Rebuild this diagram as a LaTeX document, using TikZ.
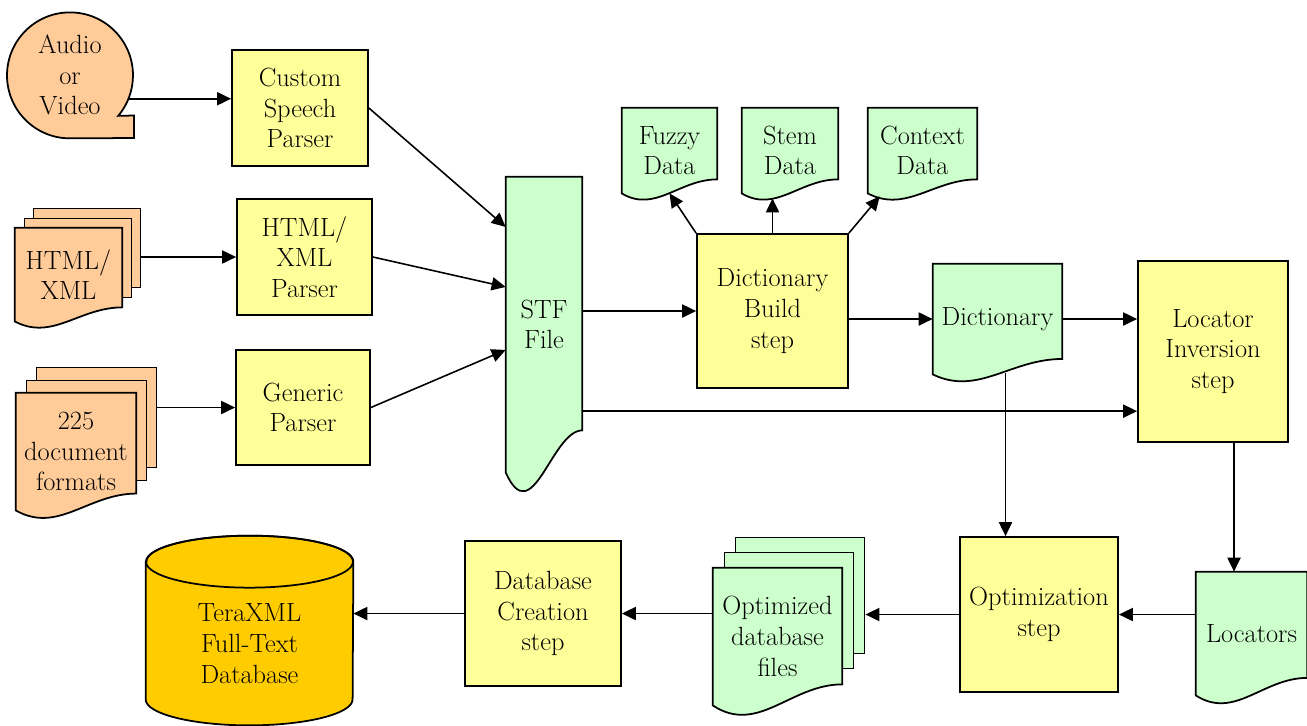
\documentclass[tikz,border=0pt]{standalone}
\usetikzlibrary{positioning, arrows.meta, calc, backgrounds}

\definecolor{srcorange}{HTML}{FFCC99}
\definecolor{stepyellow}{HTML}{FFFF99}
\definecolor{datagreen}{HTML}{CCFFCC}
\definecolor{dbgold}{HTML}{FFCC00}

\def\px{0.02cm}

% document page with a wavy lower edge: node, fill, depth of the wave
\newcommand{\docshape}[3]{%
    \filldraw[shapeline, fill=#2] (#1.north west) -- (#1.north east)
        -- ($(#1.south east)+(0,-14*#3)$)
        .. controls ($(#1.south west)!0.6!(#1.south east)+(0,-14*#3)$)
        and ($(#1.south west)!0.35!(#1.south east)+(0,20*#3)$) .. (#1.south west)
        -- cycle;}

\begin{document}
\begin{tikzpicture}[
            x=0.02cm, y=-0.02cm,
            font=\fontsize{15}{17.5}\selectfont,
            shapeline/.style={line width=1pt, line join=miter},
            stepbox/.style={draw, shapeline, fill=stepyellow, align=center, inner sep=0pt},
            docnode/.style={align=center, inner sep=0pt},
            backpage/.style={draw, shapeline, anchor=north west, inner sep=0pt},
            flow/.style={line width=0.9pt, -{Triangle[length=8pt, width=7.5pt]}},
        ]
            \useasboundingbox (0,0) rectangle (1307,725);

            % Inputs
            \node[circle, minimum size=126*\px, inner sep=0pt, align=center] (audio) at (70,75) {Audio\\or\\Video};
            \node[docnode, minimum width=107*\px, minimum height=93*\px] (html) at (68.5,274.5) {HTML/\\XML};
            \node[docnode, minimum width=120*\px, minimum height=117*\px] (fmt) at (76,451.5) {225\\document\\formats};

            % Parsers
            \node[stepbox, minimum width=136*\px, minimum height=116*\px] (csp) at (300,108) {Custom\\Speech\\Parser};
            \node[stepbox, minimum width=135*\px, minimum height=116*\px] (hxp) at (304.5,257) {HTML/\\XML\\Parser};
            \node[stepbox, minimum width=134*\px, minimum height=115*\px] (gp) at (303,407.5) {Generic\\Parser};

            \node[docnode, minimum width=76*\px, minimum height=295*\px] (stf) at (544,324.5) {STF\\File};

            % Dictionary build and its data files
            \node[stepbox, minimum width=151*\px, minimum height=154*\px] (dbs) at (772.5,311) {Dictionary\\Build\\step};
            \node[docnode, minimum width=95*\px, minimum height=85*\px] (fuzzy) at (669.5,150.5) {Fuzzy\\Data};
            \node[docnode, minimum width=96*\px, minimum height=85*\px] (stem) at (790,150.5) {Stem\\Data};
            \node[docnode, minimum width=109*\px, minimum height=85*\px] (context) at (922.5,150.5) {Context\\Data};
            \node[docnode, minimum width=129*\px, minimum height=110*\px] (dict) at (997.5,319) {Dictionary};

            % Inversion and optimization
            \node[stepbox, minimum width=150*\px, minimum height=181*\px] (lis) at (1213,351.5) {Locator\\Inversion\\step};
            \node[docnode, minimum width=111*\px, minimum height=123*\px] (loc) at (1251.5,633.5) {Locators};
            \node[stepbox, minimum width=158*\px, minimum height=155*\px] (opt) at (1039,614.5) {Optimization\\step};
            \node[docnode, minimum width=129*\px, minimum height=137*\px] (odb) at (777.5,636.5) {Optimized\\database\\files};
            \node[stepbox, minimum width=156*\px, minimum height=145*\px] (dbc) at (543,613.5) {Database\\Creation\\step};
            \node[docnode, minimum width=207*\px, minimum height=111*\px] (tdb) at (249.5,643.5) {TeraXML\\Full-Text\\Database};

            \begin{scope}[on background layer]
                % tape shaped source
                \filldraw[shapeline, fill=srcorange] (audio.south)
                    arc[start angle=270, end angle=-40, radius=1.26cm]
                    -- ($(audio.center)+(64,40.5)$) -- ($(audio.center)+(64,63)$) -- cycle;

                % stacked pages
                \node[backpage, fill=srcorange, minimum width=107*\px, minimum height=79*\px] (html-3) at ($(html.north west)+(18,-20)$) {};
                \node[backpage, fill=srcorange, minimum width=107*\px, minimum height=79*\px] (html-2) at ($(html.north west)+(9,-10)$) {};
                \docshape{html}{srcorange}{1}
                \node[backpage, fill=srcorange, minimum width=120*\px, minimum height=100*\px] (fmt-3) at ($(fmt.north west)+(20,-26)$) {};
                \node[backpage, fill=srcorange, minimum width=120*\px, minimum height=100*\px] (fmt-2) at ($(fmt.north west)+(10,-13)$) {};
                \docshape{fmt}{srcorange}{1.2}
                \node[backpage, fill=datagreen, minimum width=129*\px, minimum height=116*\px] (odb-3) at ($(odb.north west)+(22,-31)$) {};
                \node[backpage, fill=datagreen, minimum width=129*\px, minimum height=116*\px] (odb-2) at ($(odb.north west)+(11,-16)$) {};
                \docshape{odb}{datagreen}{1.5}

                % single pages
                \docshape{stf}{datagreen}{3}
                \docshape{fuzzy}{datagreen}{1}
                \docshape{stem}{datagreen}{1}
                \docshape{context}{datagreen}{1}
                \docshape{dict}{datagreen}{1.1}
                \docshape{loc}{datagreen}{1.25}

                % database cylinder
                \filldraw[shapeline, fill=dbgold] ($(tdb.north west)+(0,-26)$) -- (tdb.south west)
                    arc[start angle=180, end angle=360, x radius=2.07cm, y radius=0.52cm]
                    -- ($(tdb.north east)+(0,-26)$)
                    arc[start angle=0, end angle=180, x radius=2.07cm, y radius=0.52cm] -- cycle;
                \draw[shapeline] ($(tdb.north)+(0,-26)$) ellipse[x radius=2.07cm, y radius=0.52cm];
            \end{scope}

            % Connect the inputs with the parsers
            \draw[flow] (audio.338) -- (audio.338 -| csp.west);
            \draw[flow] (html-3.east |- hxp.west) -- (hxp.west);
            \draw[flow] (fmt-3.east |- gp.west) -- (gp.west);

            \draw[flow] (csp.east) -- ($(stf.north west)!0.17!(stf.south west)$);
            \draw[flow] (hxp.east) -- ($(stf.north west)!0.373!(stf.south west)$);
            \draw[flow] (gp.east) -- ($(stf.north west)!0.586!(stf.south west)$);

            % Out of the STF file
            \coordinate (stf-out) at ($(stf.north east)!0.793!(stf.south east)$);
            \draw[flow] (stf.east |- dbs.west) -- (dbs.west);
            \draw[flow] (stf-out) -- (stf-out -| lis.west);

            \draw[flow] (dbs.north west) -- (fuzzy.south);
            \draw[flow] (dbs.north) -- ($(dbs.north |- stem.south)+(0,5)$);
            \draw[flow] (dbs.north east) -- ($(context.south west)!0.11!(context.south east)+(0,3)$);
            \draw[flow] (dbs.east |- dict.west) -- (dict.west);
            \draw[flow] (dict.east) -- (dict.east -| lis.west);

            \coordinate (dict-out) at ($(dict.south)+(8,-1)$);
            \coordinate (lis-out) at ($(lis.south)+(21,0)$);
            \draw[flow] (dict-out) -- (dict-out |- opt.north);
            \draw[flow] (lis-out) -- (lis-out |- loc.north);

            % Bottom row, right to left
            \draw[flow] (loc.west |- opt.east) -- (opt.east);
            \draw[flow] (opt.west) -- (opt.west -| odb-3.east);
            \draw[flow] (odb.west |- dbc.east) -- (dbc.east);
            \draw[flow] (dbc.west) -- (dbc.west -| tdb.east);
        \end{tikzpicture}
\end{document}
